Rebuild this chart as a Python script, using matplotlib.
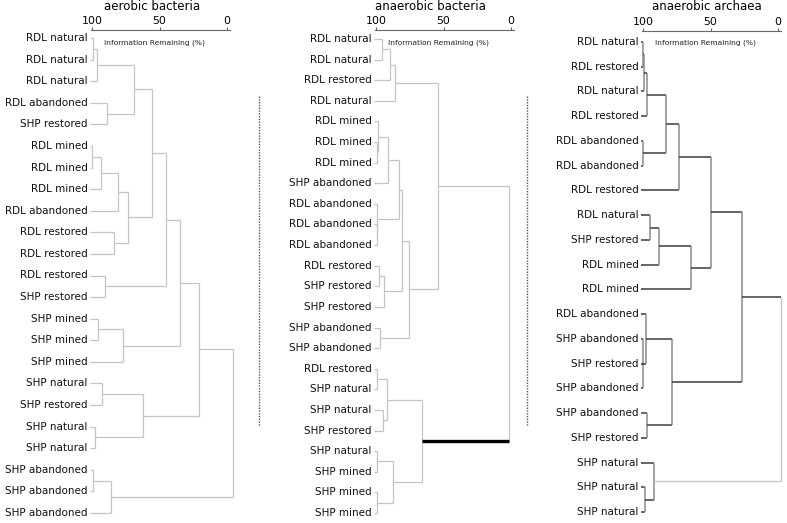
#!/usr/bin/env python3
"""Redraw the three cluster dendrograms (aerobic bacteria, anaerobic bacteria, anaerobic archaea)."""

import matplotlib

matplotlib.use("Agg")
import matplotlib.pyplot as plt
from matplotlib.lines import Line2D

plt.rcParams["font.family"] = ["DejaVu Sans"]

# --- data: leaf labels (top to bottom) and merges (left node, right node, % information remaining)
# node numbering follows scipy linkage style: leaves 0..n-1, merge k becomes node n+k

AEROBIC_TITLE = "aerobic bacteria"
AEROBIC_LABELS = [
    "RDL natural", "RDL natural", "RDL natural", "RDL abandoned", "SHP restored",
    "RDL mined", "RDL mined", "RDL mined", "RDL abandoned", "RDL restored",
    "RDL restored", "RDL restored", "SHP restored", "SHP mined", "SHP mined",
    "SHP mined", "SHP natural", "SHP restored", "SHP natural", "SHP natural",
    "SHP abandoned", "SHP abandoned", "SHP abandoned",
]
AEROBIC_MERGES = [
    (0, 1, 99.5), (23, 2, 96.3), (3, 4, 88.9), (24, 25, 68.9),
    (5, 6, 99.7), (27, 7, 93.3), (28, 8, 80.7), (9, 10, 83.7),
    (29, 30, 73.3), (26, 31, 55.6), (11, 12, 90.4), (32, 33, 45.2),
    (13, 14, 95.6), (35, 15, 77.0), (34, 36, 34.8), (16, 17, 92.6),
    (18, 19, 97.8), (38, 39, 62.2), (37, 40, 20.7), (20, 21, 99.5),
    (42, 22, 85.9), (41, 43, -4.4),
]

ANAEROBIC_BACT_TITLE = "anaerobic bacteria"
ANAEROBIC_BACT_LABELS = [
    "RDL natural", "RDL natural", "RDL restored", "RDL natural", "RDL mined",
    "RDL mined", "RDL mined", "SHP abandoned", "RDL abandoned", "RDL abandoned",
    "RDL abandoned", "RDL restored", "SHP restored", "SHP restored", "SHP abandoned",
    "SHP abandoned", "RDL restored", "SHP natural", "SHP natural", "SHP restored",
    "SHP natural", "SHP mined", "SHP mined", "SHP mined",
]
ANAEROBIC_BACT_MERGES = [
    (0, 1, 95.6), (24, 2, 89.6), (25, 3, 85.9), (5, 6, 99.5),
    (4, 27, 98.5), (28, 7, 91.1), (9, 10, 99.5), (8, 30, 99.0),
    (29, 31, 83.0), (11, 12, 97.8), (33, 13, 94.1), (32, 34, 80.7),
    (14, 15, 97.0), (35, 36, 75.6), (26, 37, 54.1), (16, 17, 99.0),
    (18, 19, 94.8), (39, 40, 91.9), (20, 21, 99.0), (22, 23, 99.0),
    (42, 43, 87.4), (41, 44, 65.9), (38, 45, 1.5),
]

ARCHAEA_TITLE = "anaerobic archaea"
ARCHAEA_LABELS = [
    "RDL natural", "RDL restored", "RDL natural", "RDL restored", "RDL abandoned",
    "RDL abandoned", "RDL restored", "RDL natural", "SHP restored", "RDL mined",
    "RDL mined", "RDL abandoned", "SHP abandoned", "SHP restored", "SHP abandoned",
    "SHP abandoned", "SHP restored", "SHP natural", "SHP natural", "SHP natural",
]
ARCHAEA_MERGES = [
    (0, 1, 99.7), (20, 2, 99.6), (21, 3, 97.0), (4, 5, 99.7),
    (22, 23, 82.8), (24, 6, 73.1), (7, 8, 94.8), (26, 9, 88.1),
    (27, 10, 64.2), (25, 28, 50.0), (12, 14, 99.7), (30, 13, 99.3),
    (11, 31, 97.8), (15, 16, 97.0), (32, 33, 78.4), (29, 34, 26.9),
    (18, 19, 98.5), (17, 36, 91.8), (35, 37, -2.2),
]

TICKS = [100, 50, 0]
AXIS_LABEL = "Information Remaining (%)"

W, H = 787, 523
SCALE = 1.35  # pixels per percent
LEAF_X = 101.2


def draw_tree(ax, labels, merges, hcolor, vcolor, lw, link_style=None, root_style=None):
    """Draw a dendrogram from a linkage-like merge list."""
    link_style = link_style or {}
    n = len(labels)
    ys = list(range(n))
    xs = [LEAF_X] * n
    for i, lab in enumerate(labels):
        ax.text(103.2, i, lab, ha="right", va="center", fontsize=7.5, color="#111111", clip_on=False)
    last = n + len(merges) - 1
    for k, (a, b, h) in enumerate(merges):
        node = n + k
        for child in (a, b):
            color, width = link_style.get(child, (hcolor, lw))
            ax.plot([xs[child], h], [ys[child], ys[child]], color=color, lw=width,
                    solid_capstyle="butt", clip_on=False, zorder=3 if width > lw else 2)
        vc, vw = (root_style if node == last and root_style else (vcolor, lw))
        ax.plot([h, h], [ys[a], ys[b]], color=vc, lw=vw, solid_capstyle="butt", clip_on=False)
        ys.append((ys[a] + ys[b]) / 2)
        xs.append(h)


def add_panel(fig, x100, top, first, last, n, title, title_x):
    left = x100 - 0.8 * SCALE
    right = x100 + 102.5 * SCALE
    ax = fig.add_axes([left / W, 0, (right - left) / W, (H - top) / H])
    ax.set_xlim(100.8, -2.5)
    step = (last - first) / (n - 1)
    ax.set_ylim((n - 1) + (H - last) / step, -(first - top) / step)
    for side in ("left", "right", "bottom"):
        ax.spines[side].set_visible(False)
    ax.spines["top"].set_color("#666666")
    ax.spines["top"].set_linewidth(0.8)
    ax.xaxis.tick_top()
    ax.set_xticks(TICKS)
    ax.set_xticklabels([str(t) for t in TICKS])
    ax.tick_params(axis="x", top=True, bottom=False, direction="out", length=2.5, width=0.8,
                   color="#666666", labelsize=7.9, pad=0.2)
    ax.set_yticks([])
    ax.patch.set_alpha(0)
    fig.text(title_x / W, 1 - 7.0 / H, title, ha="center", va="center", fontsize=8.5)
    fig.text((x100 + 12) / W, 1 - 42.5 / H, AXIS_LABEL, ha="left", va="center", fontsize=5.4,
             color="#222222")
    return ax


def main():
    fig = plt.figure(figsize=(W / 100, H / 100), dpi=100)

    ax1 = add_panel(fig, 92, 29.5, 38, 513, len(AEROBIC_LABELS), AEROBIC_TITLE, 152)
    draw_tree(ax1, AEROBIC_LABELS, AEROBIC_MERGES, "#c4c4c4", "#c4c4c4", 0.9)

    ax2 = add_panel(fig, 376, 29.5, 39, 513, len(ANAEROBIC_BACT_LABELS), ANAEROBIC_BACT_TITLE, 430)
    draw_tree(ax2, ANAEROBIC_BACT_LABELS, ANAEROBIC_BACT_MERGES, "#c4c4c4", "#c4c4c4", 0.9,
              link_style={45: ("#000000", 2.4)})

    ax3 = add_panel(fig, 643, 31, 42, 512, len(ARCHAEA_LABELS), ARCHAEA_TITLE, 707)
    draw_tree(ax3, ARCHAEA_LABELS, ARCHAEA_MERGES, "#3c3c3c", "#8a8a8a", 1.1,
              link_style={37: ("#c8c8c8", 1.0)}, root_style=("#c8c8c8", 1.0))

    # dotted separators between panels
    for xpx in (259, 527):
        fig.add_artist(Line2D([xpx / W, xpx / W], [1 - 96 / H, 1 - 425 / H],
                              transform=fig.transFigure, color="#555555", lw=1.0,
                              linestyle=(0, (1, 1))))

    fig.savefig("out.png", dpi=100)
    plt.close(fig)


if __name__ == "__main__":
    main()
